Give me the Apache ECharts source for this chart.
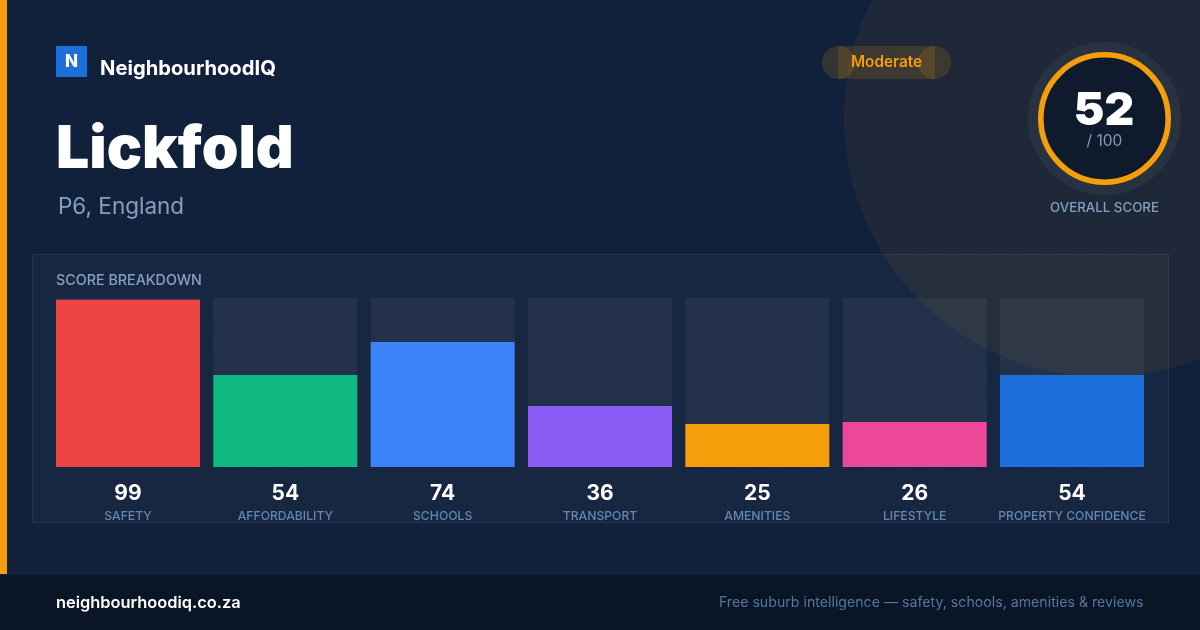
<!DOCTYPE html>
<html>
<head>
<meta charset="utf-8">
<title>Lickfold</title>
<script src="https://cdn.jsdelivr.net/npm/echarts@6/dist/echarts.min.js"></script>
<style>
html,body{margin:0;padding:0;width:1200px;height:630px;overflow:hidden}
body{background-color:#11213b;background-image:radial-gradient(circle,rgba(255,255,255,.035) 1px,transparent 1.5px);background-size:32px 32px;background-position:8px 8px}
#chart{width:1200px;height:630px}
</style>
</head>
<body>
<div id="chart"></div>
<script>
const categories = ['SAFETY', 'AFFORDABILITY', 'SCHOOLS', 'TRANSPORT', 'AMENITIES', 'LIFESTYLE', 'PROPERTY CONFIDENCE']
// printed scores are rounded, bar heights read a little finer off the picture
const scores = [99, 54, 74, 36, 25, 26, 54]
const barValues = [99, 54.4, 74, 36.1, 25.4, 26.6, 54.4]
const barColors = ['#ef4444', '#10b981', '#3b82f6', '#8b5cf6', '#f59e0b', '#ec4899', '#1d6fdc']
const overallScore = 52

const font = 'Inter'
const amber = '#f59e0b'
const pillFill = 'rgba(245,158,11,0.15)'

function label(x, y, text, size, weight, fill, align) {
    return {
        type: 'text', x: x, y: y, z: 10,
        style: {text: text, fontFamily: font, fontSize: size, fontWeight: weight, fill: fill, align: align || 'left', verticalAlign: 'middle'}
    }
}

const myChart = echarts.init(document.getElementById('chart'))
myChart.setOption({
    animation: false,
    backgroundColor: 'transparent',
    grid: {left: 49.3333, width: 1101.3333, top: 298, height: 169},
    xAxis: {
        type: 'category',
        data: categories,
        axisLine: {show: false},
        axisTick: {show: false},
        axisLabel: {
            interval: 0,
            margin: 14,
            formatter: function (name, i) {
                return '{v|' + scores[i] + '}\n{n|' + name + '}'
            },
            rich: {
                v: {fontFamily: font, fontSize: 21, fontWeight: 700, color: '#fff', height: 25, lineHeight: 25, align: 'center'},
                n: {fontFamily: font, fontSize: 12.2, fontWeight: 500, color: '#6487ae', height: 20, lineHeight: 20, align: 'center'}
            }
        }
    },
    yAxis: {type: 'value', min: 0, max: 100, show: false},
    series: [{
        type: 'bar',
        barWidth: 144,
        showBackground: true,
        backgroundStyle: {color: 'rgba(255,255,255,0.05)'},
        data: barValues.map(function (v, i) {
            return {value: v, itemStyle: {color: barColors[i]}}
        })
    }],
    graphic: {elements: [
        {type: 'circle', z: -5, shape: {cx: 1104, cy: 117, r: 260}, style: {fill: 'rgba(245,158,11,0.06)'}},
        {type: 'rect', z: -4, shape: {x: 0, y: 0, width: 7, height: 574}, style: {fill: amber}},
        {type: 'rect', z: -3, shape: {x: 32.5, y: 254.5, width: 1136, height: 268}, style: {fill: 'rgba(255,255,255,0.03)', stroke: 'rgba(255,255,255,0.08)', lineWidth: 1}},
        {type: 'rect', z: -2, shape: {x: 0, y: 574, width: 1200, height: 56}, style: {fill: '#0a1525'}},
        {type: 'rect', z: -1, shape: {x: 0, y: 574, width: 1200, height: 1}, style: {fill: 'rgba(255,255,255,0.05)'}},

        {type: 'rect', z: 3, shape: {x: 56, y: 46, width: 31, height: 31}, style: {fill: '#1d6fdc'}},
        label(71.5, 61.5, 'N', 17, 800, '#fff', 'center'),
        label(100, 69, 'NeighbourhoodIQ', 20.2, 700, '#fff'),
        label(56, 150, 'Lickfold', 58.8, 900, '#fff'),
        label(58, 207.5, 'P6, England', 22.5, 400, '#84a0c0'),

        {type: 'circle', z: 3, shape: {cx: 838.5, cy: 62.5, r: 16.5}, style: {fill: pillFill}},
        {type: 'circle', z: 3, shape: {cx: 934.5, cy: 62.5, r: 16.5}, style: {fill: pillFill}},
        {type: 'rect', z: 3, shape: {x: 838, y: 46, width: 97, height: 33}, style: {fill: pillFill}},
        label(886.5, 62, 'Moderate', 15.3, 600, amber, 'center'),

        {type: 'circle', z: 3, shape: {cx: 1104.5, cy: 118.5, r: 76.5}, style: {fill: 'rgba(255,255,255,0.05)'}},
        {type: 'circle', z: 4, shape: {cx: 1104.5, cy: 118.5, r: 63.7}, style: {fill: '#0f1b2d', stroke: amber, lineWidth: 5.6}},
        label(1104, 111, String(overallScore), 46, 900, '#fff', 'center'),
        label(1104.5, 141, '/ 100', 15.5, 400, '#7f9cbc', 'center'),
        label(1104.5, 208, 'OVERALL SCORE', 13.3, 500, '#84a0c0', 'center'),

        label(56, 281, 'SCORE BREAKDOWN', 14.3, 500, '#84a0c0'),

        label(56, 603, 'neighbourhoodiq.co.za', 16.4, 600, '#fff'),
        label(1143.5, 603, 'Free suburb intelligence \u2014 safety, schools, amenities & reviews', 14.17, 400, '#54779f', 'right')
    ]}
})
</script>
</body>
</html>
